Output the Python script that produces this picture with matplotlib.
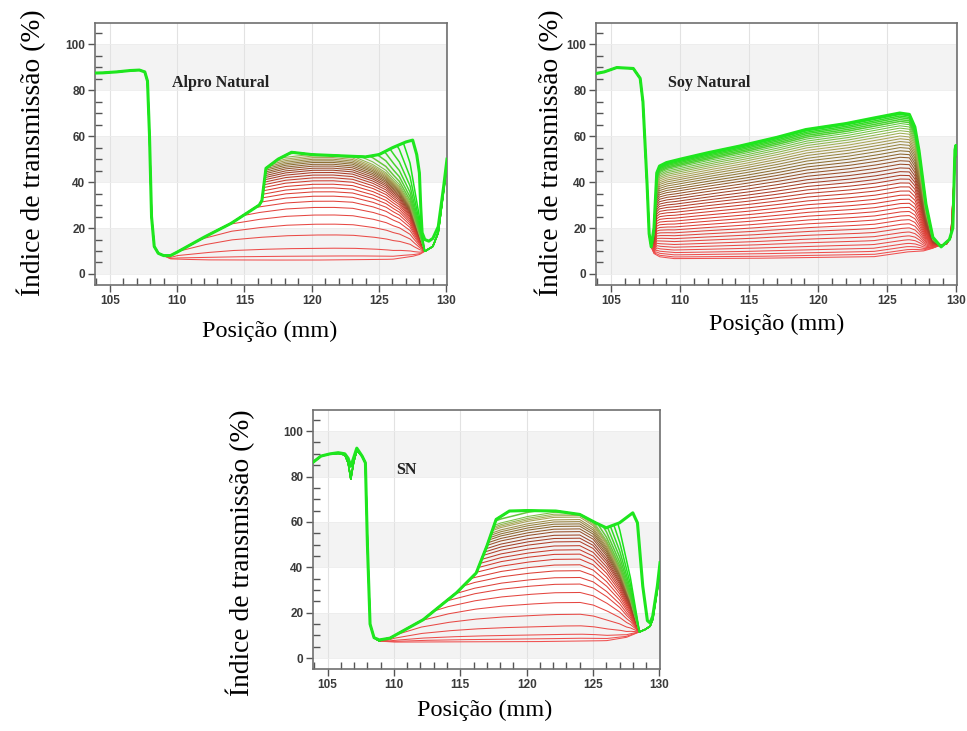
import numpy as np
import matplotlib
matplotlib.use("Agg")
import matplotlib.pyplot as plt
from matplotlib.colors import LinearSegmentedColormap
from matplotlib.ticker import MultipleLocator

# ---------------- Alpro Natural: transmission profiles ----------------
alpro_first_x = [103.9, 104.5, 105.5, 106.5, 107.2, 107.6, 107.8, 107.95, 108.1, 108.3, 108.6,
                 109.0, 109.5, 112.0, 120.0, 126.0, 127.5, 128.0, 128.5, 129.0, 129.4, 129.8, 130.05]
alpro_first_y = [87.5, 87.6, 88.0, 88.6, 88.8, 88.0, 84.0, 60.0, 25.0, 12.0, 9.0,
                 8.0, 6.6, 6.3, 6.3, 6.6, 7.8, 8.5, 10.2, 12.0, 18.0, 36.0, 48.0]
alpro_final_x = [103.9, 104.5, 105.5, 106.5, 107.2, 107.6, 107.8, 107.95, 108.1, 108.3, 108.6,
                 109.0, 109.5, 110.0, 112.0, 114.0, 116.1, 116.3, 116.6, 117.5, 118.5, 120.0,
                 122.0, 124.0, 125.0, 126.0, 127.0, 127.5, 127.8, 128.0, 128.1, 128.2, 128.4,
                 128.7, 129.0, 129.4, 129.8, 130.05]
alpro_final_y = [87.5, 87.6, 88.0, 88.6, 88.8, 88.0, 84.0, 60.0, 25.0, 12.0, 9.0,
                 8.0, 8.0, 9.5, 16.0, 22.0, 30.0, 32.0, 46.0, 50.0, 53.0, 52.0,
                 51.5, 51.0, 52.0, 55.0, 57.5, 58.3, 52.0, 44.0, 29.0, 18.0, 15.0,
                 14.3, 15.5, 20.6, 38.0, 50.0]
alpro_dome_x = [103.9, 108.8, 109.3, 110.0, 112.0, 114.0, 116.0, 118.0, 120.0, 121.5, 123.0,
                124.5, 125.5, 126.5, 127.3, 128.0, 128.4, 130.05]
alpro_dome_w = [0.0, 0.0, 0.05, 0.3, 0.6, 0.8, 0.9, 0.97, 1.0, 1.0, 0.98,
                0.9, 0.82, 0.68, 0.5, 0.2, 0.0, 0.0]
# level of each scan near 122.8 mm
alpro_levels = [6.1, 7.8, 11.2, 17.0, 21.7, 25.7, 29.0, 31.7, 33.9, 35.8, 37.5, 39.1, 40.6,
                41.9, 43.1, 44.2, 45.2, 46.1, 47.0, 47.8, 48.6, 49.3, 50.0, 50.7, 51.4,
                52.2, 53.5, 55.5, 58.5, 62.5, 68.0, 76.0, 88.0]

# ---------------- Soy Natural ----------------
soy_first_x = [103.9, 104.5, 105.4, 106.6, 107.1, 107.3, 107.6, 107.75, 107.9, 108.1, 108.5,
               109.5, 115.0, 124.0, 126.4, 127.0, 127.6, 128.2, 128.8, 129.3, 129.6, 129.9, 130.05]
soy_first_y = [87.3, 88.0, 89.9, 89.5, 85.2, 75.0, 39.0, 17.5, 11.8, 8.9, 7.5,
               6.7, 6.8, 7.5, 9.6, 9.8, 10.0, 11.0, 12.5, 13.0, 16.0, 50.0, 52.0]
soy_final_x = [103.9, 104.5, 105.4, 106.6, 107.1, 107.3, 107.6, 107.75, 107.9, 108.1, 108.3,
               108.5, 109.0, 110.0, 112.0, 114.3, 117.0, 119.1, 122.0, 124.0, 125.9, 126.6,
               127.0, 127.3, 127.8, 128.3, 128.9, 129.5, 129.75, 129.9, 129.97, 130.05]
soy_final_y = [87.3, 88.0, 89.9, 89.5, 85.2, 75.0, 39.0, 17.5, 11.8, 20.0, 44.0,
               47.0, 48.5, 50.0, 52.8, 55.7, 59.5, 62.9, 65.5, 67.9, 70.1, 69.5,
               64.0, 53.7, 30.5, 16.0, 11.8, 15.0, 20.0, 54.0, 56.0, 52.0]
# level of each scan at 124 mm
soy_levels = [7.5, 8.5, 9.8, 11.2, 12.8, 14.5, 16.2, 18.0, 19.8, 21.6, 23.4, 25.2, 27.0, 28.8,
              30.6, 32.4, 34.2, 36.0, 37.7, 39.4, 41.0, 42.6, 44.2, 45.8, 47.3, 48.8, 50.2,
              51.6, 53.0, 54.3, 55.6, 56.8, 58.0, 59.2, 60.3, 61.4, 62.4, 63.4, 64.3, 65.1,
              65.9, 66.6, 67.3, 67.9]

# ---------------- SN ----------------
sn_first_x = [103.95, 104.5, 105.2, 105.8, 106.3, 106.55, 106.75, 106.95, 107.2, 107.6, 107.85,
              108.0, 108.2, 108.5, 108.9, 110.0, 120.0, 126.0, 127.5, 128.3, 128.9, 129.3,
              129.5, 129.85, 130.05]
sn_first_y = [86.5, 89.0, 90.0, 90.2, 89.5, 86.0, 78.8, 86.0, 91.5, 89.0, 86.0,
              50.0, 15.0, 9.0, 7.5, 7.0, 7.0, 7.5, 9.0, 11.0, 12.5, 14.0,
              17.0, 30.0, 40.0]
sn_final_x = [103.95, 104.5, 105.2, 105.8, 106.3, 106.55, 106.75, 106.95, 107.2, 107.6, 107.85,
              108.0, 108.2, 108.5, 108.9, 109.7, 112.2, 114.7, 116.2, 117.0, 117.7, 118.7,
              120.0, 122.2, 124.0, 125.2, 126.0, 127.0, 128.0, 128.35, 128.75, 129.1, 129.3,
              129.5, 129.85, 130.05]
sn_final_y = [86.5, 89.0, 90.0, 90.5, 90.0, 88.0, 84.5, 88.0, 92.5, 89.0, 86.0,
              50.0, 15.0, 9.0, 8.0, 8.8, 16.9, 28.7, 37.5, 49.3, 61.1, 64.8,
              65.0, 64.8, 63.3, 59.6, 57.4, 59.6, 64.0, 59.6, 31.7, 16.5, 15.5,
              18.4, 31.7, 42.0]
sn_dome_x = [103.95, 108.9, 109.5, 110.0, 112.0, 114.0, 116.0, 118.0, 120.0, 122.0, 124.0,
             125.0, 126.0, 127.0, 127.8, 128.5, 130.05]
sn_dome_w = [0.0, 0.0, 0.08, 0.25, 0.55, 0.72, 0.84, 0.92, 0.97, 1.0, 1.0,
             0.93, 0.78, 0.55, 0.3, 0.0, 0.0]
# level of each scan near 122 mm
sn_levels = [7.3, 8.5, 10.3, 14.0, 19.1, 24.3, 28.7, 32.4, 35.3, 38.3, 40.9, 43.4, 45.6, 47.5,
             49.3, 51.1, 52.6, 54.0, 55.5, 56.7, 57.9, 58.9, 59.9, 60.8, 61.9, 62.6, 63.3,
             64.1, 66.0, 69.0, 73.0, 78.0, 85.0, 95.0]

ticks_x = [105, 110, 115, 120, 125, 130]
ticks_y = [0, 20, 40, 60, 80, 100]

# early scans red, late scans green
scan_cmap = LinearSegmentedColormap.from_list(
    "scans", [(0.0, "#f05050"), (0.35, "#d83c30"), (0.5, "#a04028"), (0.62, "#8a6a30"),
              (0.75, "#aaa858"), (0.87, "#58cc38"), (1.0, "#1ae41a")])

XS = np.linspace(103.85, 130.1, 2500)


def style_axes(ax, name, tx, ty):
    ax.set_xlim(103.9, 130.05)
    ax.set_ylim(-4.8, 109.3)
    for lo in (0, 40, 80):
        ax.axhspan(lo, lo + 20, color="#f3f3f3", zorder=0, lw=0)
    for v in ticks_x:
        ax.axvline(v, color="#e2e2e2", lw=0.8, zorder=0.5)
    for v in ticks_y:
        ax.axhline(v, color="#ececec", lw=0.6, zorder=0.5)
    ax.set_xticks(ticks_x)
    ax.set_yticks(ticks_y)
    ax.xaxis.set_minor_locator(MultipleLocator(1))
    ax.yaxis.set_minor_locator(MultipleLocator(5))
    ax.tick_params(which="major", direction="out", length=5, width=1, color="#555555",
                   labelsize=8.5, labelcolor="#3a3a3a", pad=2)
    ax.tick_params(which="minor", direction="in", length=5, width=1, color="#555555")
    for lab in ax.get_xticklabels() + ax.get_yticklabels():
        lab.set_fontweight("bold")
        lab.set_family("Liberation Sans")
    for sp in ax.spines.values():
        sp.set_color("#707070")
        sp.set_linewidth(1.2)
    ax.text(tx, ty, name, fontsize=11.5, fontweight="bold", family="Liberation Serif",
            va="center", ha="left", color="#222222", zorder=5)


def scan_width(i, n):
    return 1.1 if i >= n - 6 else 0.75


def draw_domed(ax, first_x, first_y, final_x, final_y, dome_x, dome_w, levels):
    first = np.interp(XS, first_x, first_y)
    final = np.interp(XS, final_x, final_y)
    dome = np.interp(XS, dome_x, dome_w)
    base = np.interp(121.0, first_x, first_y)
    n = len(levels)
    for i, lev in enumerate(levels):
        y = np.minimum(final, first + (lev - base) * dome)
        ax.plot(XS, y, color=scan_cmap(i / (n - 1)), lw=scan_width(i, n), zorder=2)
    ax.plot(final_x, final_y, color="#1ee61e", lw=2.2, zorder=3)


def draw_blend(ax, first_x, first_y, final_x, final_y, levels, ref_x):
    first = np.interp(XS, first_x, first_y)
    final = np.interp(XS, final_x, final_y)
    f0 = np.interp(ref_x, first_x, first_y)
    f1 = np.interp(ref_x, final_x, final_y)
    n = len(levels)
    for i, lev in enumerate(levels):
        frac = (lev - f0) / (f1 - f0)
        y = first + frac * (final - first)
        ax.plot(XS, y, color=scan_cmap(i / (n - 1)), lw=scan_width(i, n), zorder=2)
    ax.plot(final_x, final_y, color="#1ee61e", lw=2.2, zorder=3)


fig = plt.figure(figsize=(9.67, 7.31), dpi=100)
W, H = 967.0, 731.0

ax1 = fig.add_axes([95 / W, 1 - 285 / H, 352 / W, 262 / H])
ax2 = fig.add_axes([596 / W, 1 - 285 / H, 361 / W, 262 / H])
ax3 = fig.add_axes([313 / W, 1 - 669 / H, 347 / W, 259 / H])

style_axes(ax1, "Alpro Natural", 109.6, 83.2)
draw_domed(ax1, alpro_first_x, alpro_first_y, alpro_final_x, alpro_final_y,
           alpro_dome_x, alpro_dome_w, alpro_levels)

style_axes(ax2, "Soy Natural", 109.1, 83.0)
draw_blend(ax2, soy_first_x, soy_first_y, soy_final_x, soy_final_y, soy_levels, 124.0)

style_axes(ax3, "SN", 110.2, 82.8)
draw_domed(ax3, sn_first_x, sn_first_y, sn_final_x, sn_final_y,
           sn_dome_x, sn_dome_w, sn_levels)

ylab = "Índice de transmissão (%)"
xlab = "Posição (mm)"
lab_font = dict(family="Liberation Serif", color="black")
fig.text(31 / W, 1 - 153 / H, ylab, rotation=90, ha="center", va="center", fontsize=19.8, **lab_font)
fig.text(549 / W, 1 - 153 / H, ylab, rotation=90, ha="center", va="center", fontsize=19.8, **lab_font)
fig.text(240 / W, 1 - 553 / H, ylab, rotation=90, ha="center", va="center", fontsize=19.8, **lab_font)
fig.text(270 / W, 1 - 331 / H, xlab, ha="center", va="center", fontsize=17.5, **lab_font)
fig.text(777 / W, 1 - 324 / H, xlab, ha="center", va="center", fontsize=17.5, **lab_font)
fig.text(485 / W, 1 - 710 / H, xlab, ha="center", va="center", fontsize=17.5, **lab_font)

fig.savefig("out.png", dpi=100)
